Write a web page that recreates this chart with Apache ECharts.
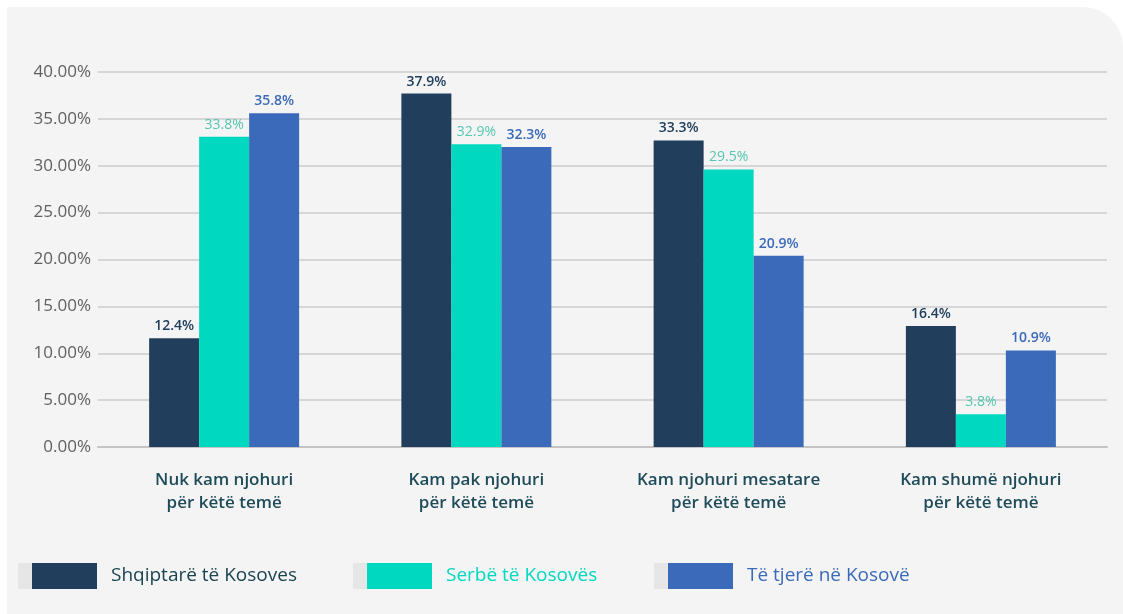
<!DOCTYPE html>
<html>
<head>
<meta charset="utf-8">
<script src="https://cdn.jsdelivr.net/npm/echarts@6/dist/echarts.min.js"></script>
<style>
  html, body { margin: 0; padding: 0; background: #ffffff; }
  #chart { width: 1123px; height: 614px; }
</style>
</head>
<body>
<div id="chart"></div>
<script>
const categories = [
    "Nuk kam njohuri\npër këtë temë",
    "Kam pak njohuri\npër këtë temë",
    "Kam njohuri mesatare\npër këtë temë",
    "Kam shumë njohuri\npër këtë temë"
];
const seriesNames = ["Shqiptarë të Kosoves", "Serbë të Kosovës", "Të tjerë në Kosovë"];
// bar heights as drawn in the picture
const albanianValues = [11.6, 37.7, 32.7, 12.9];
const serbianValues = [33.1, 32.3, 29.6, 3.5];
const otherValues = [35.6, 32.0, 20.4, 10.3];
// printed labels above the bars
const albanianLabels = ["12.4%", "37.9%", "33.3%", "16.4%"];
const serbianLabels = ["33.8%", "32.9%", "29.5%", "3.8%"];
const otherLabels = ["35.8%", "32.3%", "20.9%", "10.9%"];

const barColors = ["#213f5c", "#00d8c0", "#3b6aba"];
const labelColors = ["#213f5c", "#55c6b0", "#3b6aba"];
const legendTextColors = ["#1a4450", "#00d8c0", "#3b6aba"];
const legendLeft = [32, 367, 668];
const fontFamily = "'Open Sans', 'Noto Sans', sans-serif";

function makeSeries (i, values, labels) {
    return {
        name: seriesNames[i],
        type: "bar",
        data: values,
        barWidth: 50,
        barGap: "0%",
        itemStyle: { color: barColors[i] },
        label: {
            show: true,
            position: "top",
            distance: 5,
            color: labelColors[i],
            fontFamily: fontFamily,
            fontSize: 14,
            fontWeight: i === 1 ? "normal" : 600,
            formatter: (p) => labels[p.dataIndex]
        }
    };
}

const chart = echarts.init(document.getElementById("chart"));
const option = {
    animation: false,
    backgroundColor: "#ffffff",
    graphic: [
        {
            type: "rect",
            z: -10,
            silent: true,
            shape: { x: 7, y: 7, width: 1116, height: 607, r: [0, 40, 0, 0] },
            style: { fill: "#f4f4f4" }
        }
    ],
    grid: {
        left: 98,
        right: 16,
        top: 72,
        bottom: 167
    },
    legend: seriesNames.map((name, i) => ({
        data: [name],
        left: legendLeft[i],
        top: 563,
        padding: 0,
        itemWidth: 65,
        itemHeight: 26,
        itemGap: 0,
        icon: "rect",
        itemStyle: {
            shadowColor: "#e6e6e6",
            shadowOffsetX: -14,
            shadowBlur: 0
        },
        textStyle: {
            color: legendTextColors[i],
            fontFamily: fontFamily,
            fontSize: 19,
            padding: [0, 0, 0, 9]
        }
    })),
    xAxis: {
        type: "category",
        data: categories,
        axisTick: { show: false },
        axisLine: { lineStyle: { color: "#c4c4c4", width: 2 } },
        axisLabel: {
            margin: 22,
            color: "#1e4b5a",
            fontFamily: fontFamily,
            fontSize: 17,
            fontWeight: 600,
            lineHeight: 23
        }
    },
    yAxis: {
        type: "value",
        min: 0,
        max: 40,
        interval: 5,
        axisLine: { show: false },
        axisTick: { show: false },
        splitLine: { lineStyle: { color: "#cccccc", width: 1.5 } },
        axisLabel: {
            margin: 7,
            color: "#606060",
            fontFamily: fontFamily,
            fontSize: 17,
            formatter: (v) => v.toFixed(2) + "%"
        }
    },
    series: [
        makeSeries(0, albanianValues, albanianLabels),
        makeSeries(1, serbianValues, serbianLabels),
        makeSeries(2, otherValues, otherLabels)
    ]
};
chart.setOption(option);
</script>
</body>
</html>
